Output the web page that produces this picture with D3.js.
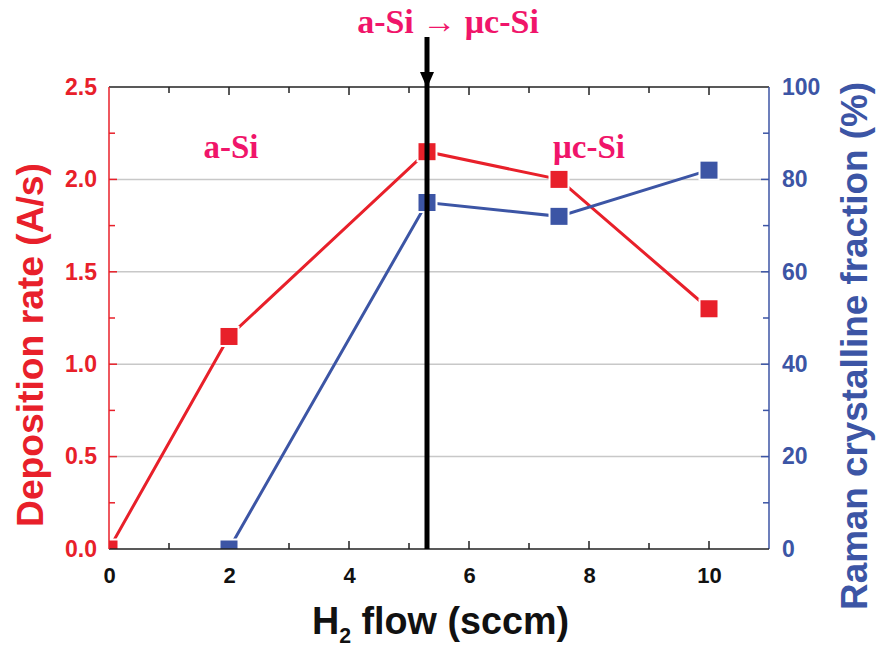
<!DOCTYPE html>
<html><head><meta charset="utf-8">
<script src="https://cdn.jsdelivr.net/npm/d3@7"></script>
<style>body{margin:0;background:#fff;}svg{display:block;}</style>
</head><body>
<script>
const flow = [0, 2, 5.3, 7.5, 10];
const depRate = [0, 1.15, 2.15, 2.0, 1.3];
const crystFlow = [2, 5.3, 7.5, 10];
const crystFrac = [0, 75, 72, 82];
const xTicks = [0, 2, 4, 6, 8, 10];
const yLeftTicks = [0, 0.5, 1.0, 1.5, 2.0, 2.5];
const yRightTicks = [0, 20, 40, 60, 80, 100];
const transitionX = 5.3;

const W = 877, H = 650;
const L = 109, R = 769, T = 87, B = 549;
const red = "#e8202a", blue = "#3c55a5", pink = "#f0156a";
const sans = "Liberation Sans, Arial, sans-serif";
const serif = "Liberation Serif, Times New Roman, serif";

const svg = d3.select("body").append("svg").attr("width", W).attr("height", H);
const x = d3.scaleLinear().domain([0, 11]).range([L, R]);
const yL = d3.scaleLinear().domain([0, 2.5]).range([B, T]);
const yR = d3.scaleLinear().domain([0, 100]).range([B, T]);

// gridlines
svg.append("g").selectAll("line").data([0.5, 1.0, 1.5, 2.0]).join("line")
  .attr("x1", L).attr("x2", R).attr("y1", d => yL(d)).attr("y2", d => yL(d))
  .attr("stroke", "#c8c8c8").attr("stroke-width", 1.5);

// top border with ticks
svg.append("line").attr("x1", L).attr("x2", R).attr("y1", T).attr("y2", T).attr("stroke", "#222").attr("stroke-width", 1.5);
svg.append("g").selectAll("line").data(d3.range(1, 11)).join("line")
  .attr("x1", d => x(d)).attr("x2", d => x(d)).attr("y1", T).attr("y2", d => T + (d % 2 === 0 ? 8 : 6))
  .attr("stroke", "#222").attr("stroke-width", 1.5);

// bottom axis
const gx = svg.append("g").attr("transform", `translate(0,${B})`)
  .call(d3.axisBottom(x).tickValues(xTicks).tickSize(0).tickPadding(18).tickFormat(d3.format("d")));
gx.select(".domain").remove();
gx.selectAll("text").attr("font-family", sans).attr("font-weight", "bold").attr("font-size", 22).attr("fill", "#111");
svg.append("g").selectAll("line").data(d3.range(1, 11)).join("line")
  .attr("x1", d => x(d)).attr("x2", d => x(d)).attr("y1", B).attr("y2", d => B - (d % 2 === 0 ? 8 : 6))
  .attr("stroke", "#222").attr("stroke-width", 1.5);

// left axis
const gl = svg.append("g").attr("transform", `translate(${L},0)`)
  .call(d3.axisLeft(yL).tickValues(yLeftTicks).tickSize(0).tickPadding(12).tickFormat(d3.format(".1f")));
gl.select(".domain").remove();
gl.selectAll("text").attr("font-family", sans).attr("font-weight", "bold").attr("font-size", 23).attr("fill", red);
svg.append("g").selectAll("line").data(d3.range(0.25, 2.5, 0.25)).join("line")
  .attr("x1", L).attr("x2", (d, i) => L + (i % 2 === 1 ? 8 : 6)).attr("y1", d => yL(d)).attr("y2", d => yL(d))
  .attr("stroke", red).attr("stroke-width", 1.5);

// right axis
const gr = svg.append("g").attr("transform", `translate(${R},0)`)
  .call(d3.axisRight(yR).tickValues(yRightTicks).tickSize(0).tickPadding(13));
gr.select(".domain").remove();
svg.append("line").attr("x1", R).attr("x2", R).attr("y1", T).attr("y2", B).attr("stroke", blue).attr("stroke-width", 1.5);
gr.selectAll("text").attr("font-family", sans).attr("font-weight", "bold").attr("font-size", 23).attr("fill", blue);
svg.append("g").selectAll("line").data(d3.range(10, 100, 10)).join("line")
  .attr("x1", R).attr("x2", (d, i) => R - (i % 2 === 1 ? 8 : 6)).attr("y1", d => yR(d)).attr("y2", d => yR(d))
  .attr("stroke", blue).attr("stroke-width", 1.5);

// clip
svg.append("clipPath").attr("id", "clip").append("rect").attr("x", L).attr("y", T - 20).attr("width", R - L).attr("height", B - T + 20);
const plot = svg.append("g").attr("clip-path", "url(#clip)");

const redPts = flow.map((f, i) => [f, depRate[i]]);
const bluePts = crystFlow.map((f, i) => [f, crystFrac[i]]);

plot.append("path").datum(redPts).attr("fill", "none").attr("stroke", red).attr("stroke-width", 3)
  .attr("d", d3.line().x(d => x(d[0])).y(d => yL(d[1])));
plot.append("path").datum(bluePts).attr("fill", "none").attr("stroke", blue).attr("stroke-width", 3)
  .attr("d", d3.line().x(d => x(d[0])).y(d => yR(d[1])));

const ms = 19;
plot.append("g").selectAll("rect").data(redPts).join("rect")
  .attr("x", d => x(d[0]) - ms / 2).attr("y", d => yL(d[1]) - ms / 2).attr("width", ms).attr("height", ms)
  .attr("fill", red).attr("stroke", "#fff").attr("stroke-width", 2);
plot.append("g").selectAll("rect").data(bluePts).join("rect")
  .attr("x", d => x(d[0]) - ms / 2).attr("y", d => yR(d[1]) - ms / 2).attr("width", ms).attr("height", ms)
  .attr("fill", blue).attr("stroke", "#fff").attr("stroke-width", 2);

// bottom & left axis lines above clipped markers
svg.append("line").attr("x1", L).attr("x2", R).attr("y1", B).attr("y2", B).attr("stroke", "#222").attr("stroke-width", 1.5);
svg.append("line").attr("x1", L).attr("x2", L).attr("y1", T).attr("y2", B).attr("stroke", red).attr("stroke-width", 1.5);

// transition line with arrow
const tx = x(transitionX);
svg.append("line").attr("x1", tx).attr("x2", tx).attr("y1", 37).attr("y2", B).attr("stroke", "#000").attr("stroke-width", 5);
svg.append("path").attr("d", `M${tx - 7},${T - 15} L${tx + 7},${T - 15} L${tx},${T + 1} Z`).attr("fill", "#000");

// annotations
svg.append("text").attr("x", 448).attr("y", 33).attr("text-anchor", "middle")
  .attr("font-family", serif).attr("font-weight", "bold").attr("font-size", 34).attr("fill", pink)
  .text("a-Si → μc-Si");
svg.append("text").attr("x", 231).attr("y", 158).attr("text-anchor", "middle")
  .attr("font-family", serif).attr("font-weight", "bold").attr("font-size", 33).attr("fill", pink)
  .text("a-Si");
svg.append("text").attr("x", 589).attr("y", 158).attr("text-anchor", "middle")
  .attr("font-family", serif).attr("font-weight", "bold").attr("font-size", 33).attr("fill", pink)
  .text("μc-Si");

// axis titles
function fitText(sel, target) {
  const w = sel.node().getBBox().width;
  return w > 0 ? target / w : 1;
}
const lt = svg.append("text").attr("text-anchor", "middle")
  .attr("font-family", sans).attr("font-weight", "bold").attr("font-size", 36).attr("fill", red)
  .text("Deposition rate (A/s)");
const lk = fitText(lt, 364);
lt.attr("transform", `translate(43,345) rotate(-90) scale(${lk},1)`);

const rt = svg.append("text").attr("text-anchor", "middle")
  .attr("font-family", sans).attr("font-weight", "bold").attr("font-size", 37).attr("fill", blue)
  .text("Raman crystalline fraction (%)");
const rk = fitText(rt, 528);
rt.attr("transform", `translate(867,346) rotate(-90) scale(${rk},1)`);

const xt = svg.append("text").attr("text-anchor", "start")
  .attr("font-family", sans).attr("font-weight", "bold").attr("font-size", 39).attr("fill", "#111");
xt.append("tspan").text("H");
xt.append("tspan").attr("dy", 9).attr("font-size", 22).text("2");
xt.append("tspan").attr("dy", -9).text(" flow (sccm)");
const xk = fitText(xt, 257);
xt.attr("transform", `translate(312,634) scale(${xk},1)`);
</script>
</body></html>
